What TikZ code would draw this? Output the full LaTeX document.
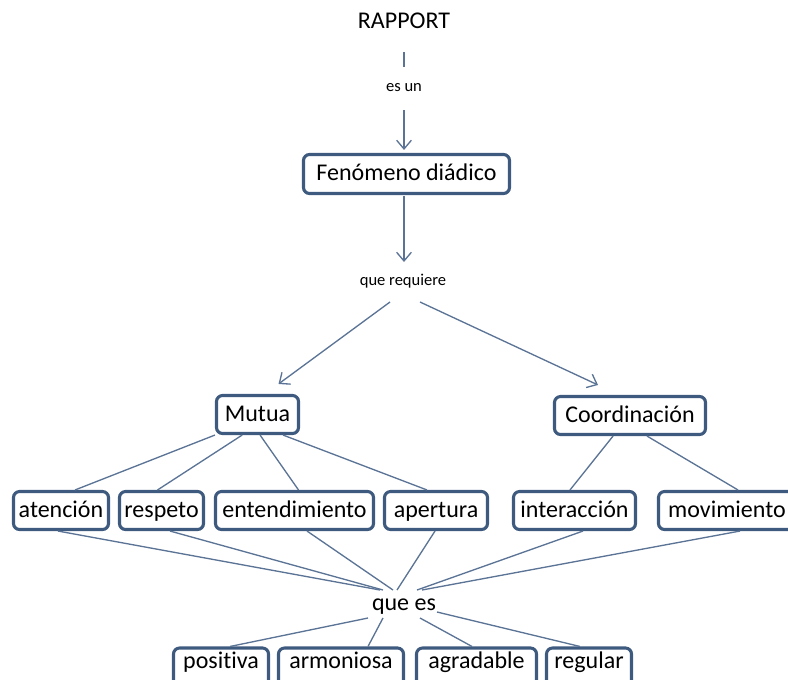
\documentclass[tikz,border=0pt]{standalone}
\usepackage{fontspec}
\setmainfont{Carlito}[Ligatures={NoCommon,NoContextual}]
\usetikzlibrary{arrows.meta,calc}
\definecolor{boxc}{HTML}{3E5A7E}
\definecolor{linec}{HTML}{5B7496}
\begin{document}
\begin{tikzpicture}[x=0.75pt,y=-0.75pt,
  box/.style={draw=boxc,line width=2.3pt,rounded corners=4.5pt,fill=white,
    font=\fontsize{18}{20}\selectfont,minimum height=28.5pt,inner sep=0pt,text=black,
    text height=13pt,text depth=3pt},
  lowbox/.style={box,text height=9.1pt,text depth=6.9pt},
  lbl/.style={font=\fontsize{18}{20}\selectfont,inner sep=0pt,text height=12.5pt,text depth=3.5pt},
  small/.style={font=\fontsize{12.4}{14}\selectfont,inner sep=0pt},
  conn/.style={draw=linec,line width=1pt},
  arr/.style={conn,-{Straight Barb[length=6.5pt,width=11pt,line width=1pt]}}]
\useasboundingbox (0,0) rectangle (788,679);
% nodes
\node[lbl] (rapport) at (404,22) {RAPPORT};
\node[small] (esun) at (404,88) {es un};
\node[box,minimum width=154.5pt,minimum height=29.25pt] (fen) at (406.5,174) {Fenómeno diádico};
\node[small] (req) at (403,281) {que requiere};
\node[box,minimum width=61.5pt] (mutua) at (257.5,414.5) {Mutua};
\node[box,minimum width=113.25pt] (coord) at (630,415.5) {Coordinación};
\node[box,minimum width=71.25pt] (atencion) at (61,510.5) {atención};
\node[box,minimum width=63pt] (respeto) at (161.5,510.5) {respeto};
\node[box,minimum width=118.5pt] (entend) at (294.5,510.5) {entendimiento};
\node[box,minimum width=77.25pt] (apertura) at (436,510.5) {apertura\hspace{5pt}};
\node[box,minimum width=91.5pt] (interac) at (574.5,510.5) {interacción};
\node[box,minimum width=102.75pt] (movim) at (727,510.5) {movimiento};
\node[lbl] (quees) at (404,604) {que es};
\node[lowbox,minimum width=71.25pt] (positiva) at (221,667) {positiva};
\node[lowbox,minimum width=93.75pt] (armoniosa) at (341,667) {armoniosa};
\node[lowbox,minimum width=90pt] (agradable) at (476.5,667) {agradable};
\node[lowbox,minimum width=63.75pt] (regular) at (589,667) {regular};
% top chain
\draw[conn] ($(rapport)+(0,30)$) -- ($(esun)+(0,-21)$);
\draw[arr] ($(esun)+(0,22)$) -- ($(fen.north)+(-2.5,-3)$);
\draw[arr] ($(fen.south)+(-2.5,1)$) -- ($(req)+(1,-19)$);
\draw[arr] ($(req)+(-13,21)$) -- ($(mutua.north)+(21,-10)$);
\draw[arr] ($(req)+(17,21)$) -- ($(coord.north)+(-32,-10)$);
% Mutua children
\draw[conn] (mutua.south west) -- ($(atencion.north)+(14,0)$);
\draw[conn] ($(mutua.south west)!0.32!(mutua.south east)$) -- ($(respeto.north)+(-4,0)$);
\draw[conn] ($(mutua.south west)!0.53!(mutua.south east)$) -- ($(entend.north)+(4,0)$);
\draw[conn] ($(mutua.south west)!0.8!(mutua.south east)$) -- ($(apertura.north)+(-9,0)$);
% Coordinacion children
\draw[conn] ($(coord.south west)!0.39!(coord.south east)$) -- ($(interac.north)+(-4.5,0)$);
\draw[conn] ($(coord.south west)!0.61!(coord.south east)$) -- ($(movim.north)+(11,0)$);
% to que es
\draw[conn] ($(atencion.south)+(-3,0)$) -- ($(quees)+(-24,-14)$);
\draw[conn] ($(respeto.south)+(8.5,0)$) -- ($(quees)+(-21,-14)$);
\draw[conn] ($(entend.south)+(12.5,0)$) -- ($(quees)+(-11,-14)$);
\draw[conn] ($(apertura.south)+(-1,0)$) -- ($(quees)+(-7,-14)$);
\draw[conn] ($(interac.south)+(8.5,0)$) -- ($(quees)+(13,-14)$);
\draw[conn] ($(movim.south)+(13,0)$) -- ($(quees)+(18,-14)$);
% from que es
\draw[conn] ($(quees)+(-36,14)$) -- ($(positiva.north)+(9,0)$);
\draw[conn] ($(quees)+(-21,14)$) -- ($(armoniosa.north)+(27,0)$);
\draw[conn] ($(quees)+(16,14)$) -- ($(agradable.north)+(-4.5,0)$);
\draw[conn] ($(quees)+(33,8)$) -- ($(regular.north)+(-9,0)$);
\end{tikzpicture}
\end{document}
